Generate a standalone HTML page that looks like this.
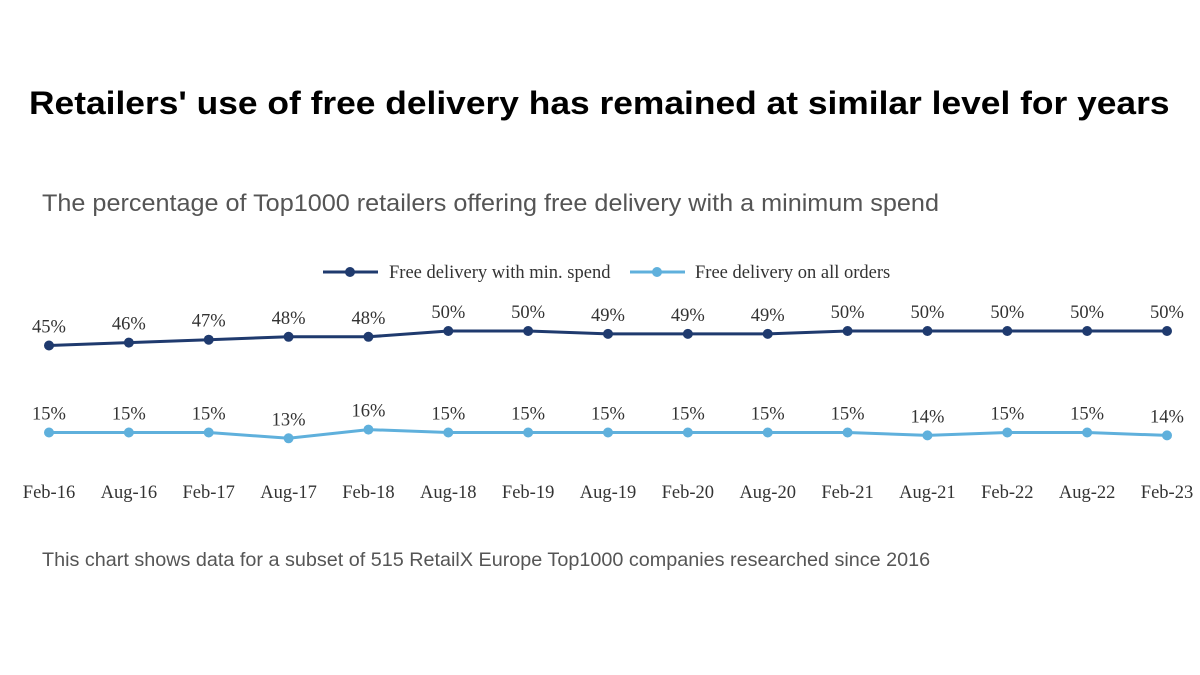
<!DOCTYPE html>
<html><head><meta charset="utf-8"><style>
body{margin:0;width:1200px;height:675px;background:#fff;overflow:hidden;position:relative;font-family:"Liberation Sans",sans-serif}
#title{position:absolute;left:29px;top:85px;white-space:nowrap;font-weight:bold;font-size:32px;color:#000;transform-origin:0 0;transform:scaleX(1.105)}
#sub{position:absolute;left:42px;top:190px;white-space:nowrap;font-size:24px;color:#555;transform-origin:0 0;transform:scaleX(1.05)}
#foot{position:absolute;left:42px;top:549px;white-space:nowrap;font-size:19.8px;color:#555}
svg{position:absolute;left:0;top:0}
svg text{font-family:"Liberation Serif",serif}
</style></head><body>
<div id="title">Retailers' use of free delivery has remained at similar level for years</div>
<div id="sub">The percentage of Top1000 retailers offering free delivery with a minimum spend</div>
<div id="foot">This chart shows data for a subset of 515 RetailX Europe Top1000 companies researched since 2016</div>
<svg id="chart" width="1200" height="675">
<g>
<line x1="323" y1="272" x2="378" y2="272" stroke="#1f3a6e" stroke-width="3"/><circle cx="350" cy="272" r="5" fill="#1f3a6e"/>
<text x="389" y="278" font-size="18.5" fill="#333">Free delivery with min. spend</text>
<line x1="630" y1="272" x2="685" y2="272" stroke="#5fb0dc" stroke-width="3"/><circle cx="657" cy="272" r="5" fill="#5fb0dc"/>
<text x="695" y="278" font-size="18.5" fill="#333">Free delivery on all orders</text>
</g>
</svg>
<script>
const categories=["Feb-16","Aug-16","Feb-17","Aug-17","Feb-18","Aug-18","Feb-19","Aug-19","Feb-20","Aug-20","Feb-21","Aug-21","Feb-22","Aug-22","Feb-23"];
const minSpend=[45,46,47,48,48,50,50,49,49,49,50,50,50,50,50];
const allOrders=[15,15,15,13,16,15,15,15,15,15,15,14,15,15,14];
const svg=document.getElementById('chart');
const NS='http://www.w3.org/2000/svg';
function xs(i){return 49+i*(1167-49)/(categories.length-1);}
function ys(v){return 331+(50-v)*2.9;}
function mk(t,a){const e=document.createElementNS(NS,t);for(const k in a)e.setAttribute(k,a[k]);svg.appendChild(e);return e;}
categories.forEach((c,i)=>{const t=mk('text',{x:xs(i),y:498,'font-size':18.5,fill:'#333','text-anchor':'middle'});t.textContent=c;

});
function series(vals,color,name){
 const p=mk('polyline',{points:vals.map((v,i)=>xs(i)+','+ys(v)).join(' '),fill:'none',stroke:color,'stroke-width':3});
 
 
 vals.forEach((v,i)=>{const c=mk('circle',{cx:xs(i),cy:ys(v),r:5,fill:color});
  
  
  const t=mk('text',{x:xs(i),y:ys(v)-13,'font-size':18.5,fill:'#333','text-anchor':'middle'});t.textContent=v+'%';
  
  });
}
series(minSpend,'#1f3a6e','min-spend');
series(allOrders,'#5fb0dc','all-orders');
</script>
</body></html>
